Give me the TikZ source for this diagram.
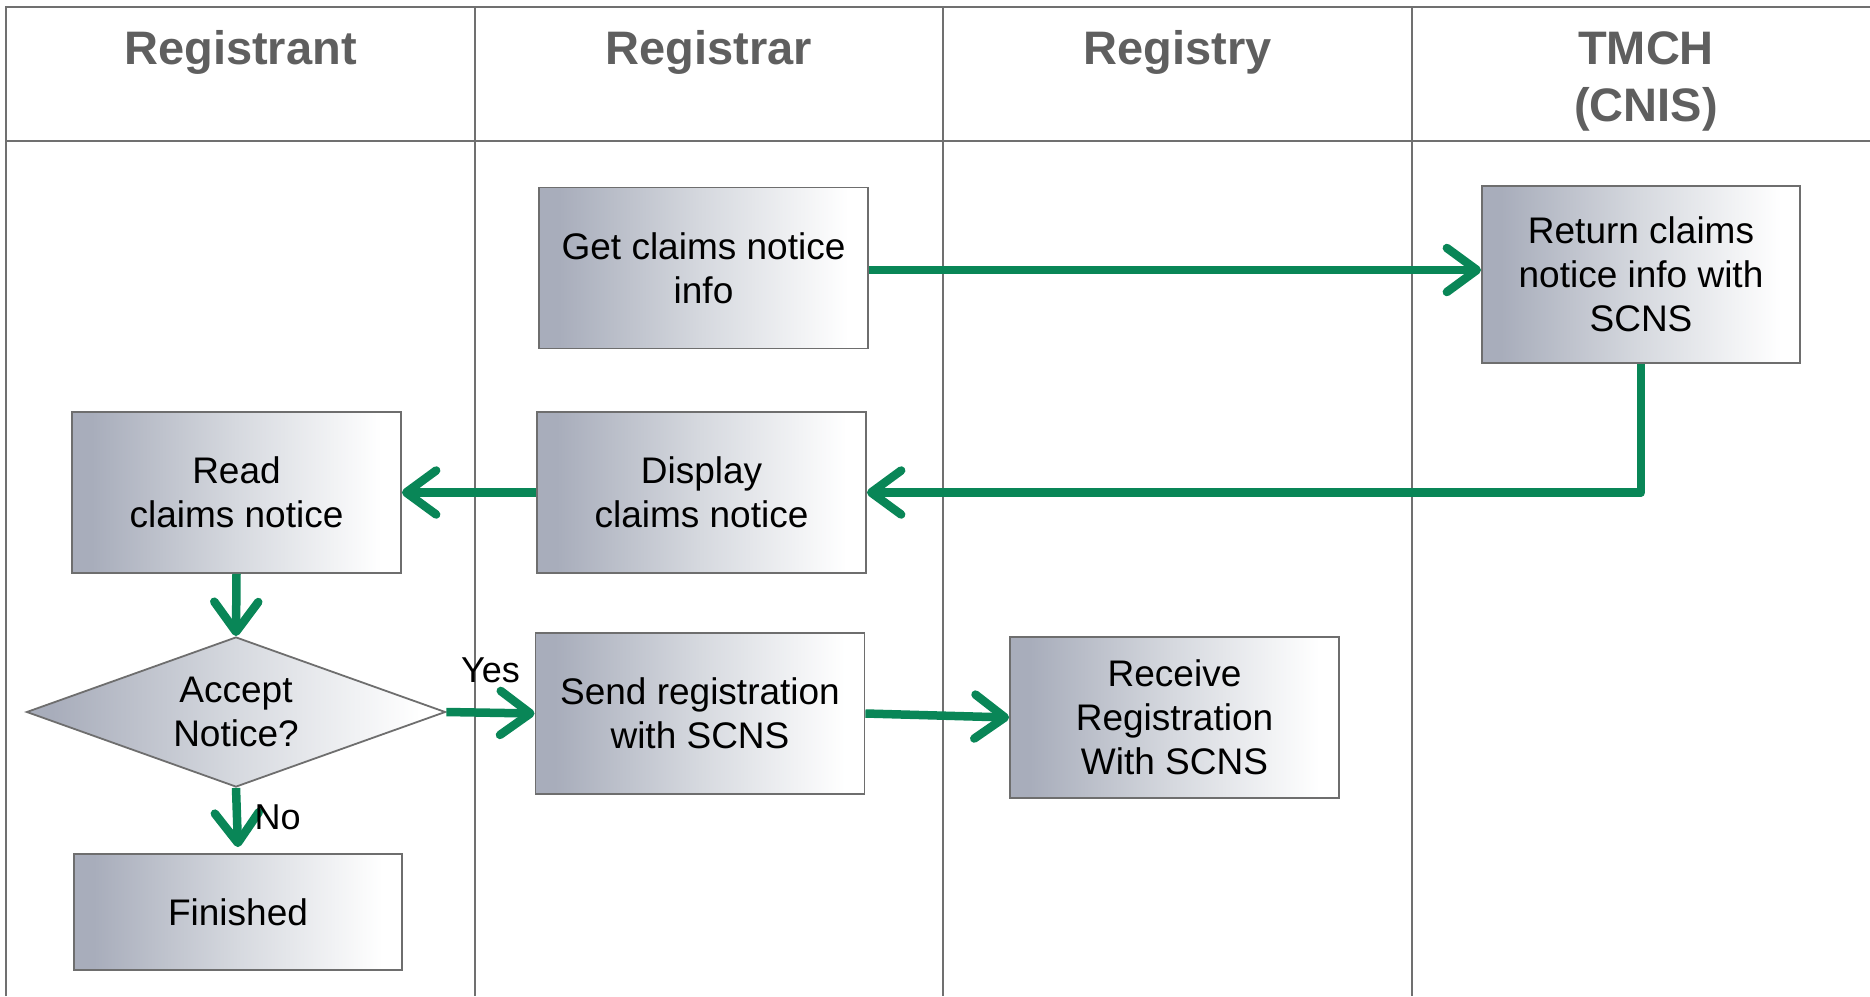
\documentclass[tikz,border=0pt]{standalone}
\usepackage{fontspec}
\setmainfont{Liberation Sans}
\usetikzlibrary{arrows.meta,shapes.geometric}
\definecolor{flowgreen}{RGB}{9,134,87}
\definecolor{lanegray}{RGB}{112,112,112}
\definecolor{headgray}{RGB}{95,95,95}
\definecolor{boxedge}{RGB}{110,110,110}
\definecolor{boxdark}{RGB}{168,173,187}
\definecolor{boxmid}{RGB}{214,217,223}
% left-to-right fade used by every process box
\pgfdeclarehorizontalshading{boxfade}{100bp}{color(0bp)=(boxdark); color(28bp)=(boxdark); color(50bp)=(boxmid); color(72bp)=(white); color(100bp)=(white)}
\tikzset{
  lane/.style={draw=lanegray, line width=2pt},
  lanehead/.style={anchor=base, text=headgray, align=center, inner sep=0pt,
    font=\fontsize{47}{57}\selectfont\bfseries},
  stepbox/.style={draw=boxedge, line width=1.8pt, shading=boxfade,
    minimum width=329pt, minimum height=161pt, inner sep=0pt, align=center,
    text=black, font=\fontsize{37}{44}\selectfont},
  decision/.style={stepbox, shape=diamond, aspect=2.79, minimum width=419pt,
    minimum height=150pt},
  flow/.style={draw=flowgreen, line width=8.5pt, line join=round,
    -{Straight Barb[length=30pt,width=44pt,round]}},
  flowlabel/.style={text=black, font=\fontsize{36}{42}\selectfont}
}
\begin{document}
\begin{tikzpicture}[x=1pt,y=-1pt]
\useasboundingbox (0,0) rectangle (1870,996);

% swimlane frame
\draw[lane] (6,996) -- (6,7) -- (1870,7);
\draw[lane] (6,141) -- (1870,141);
\foreach \lx in {475,943,1412} \draw[lane] (\lx,7) -- (\lx,996);

% lane headings (a base anchor sits on the last line)
\node[lanehead] (hrant) at (240.5,64) {Registrant};
\node[lanehead] (hrar)  at (709,64)   {Registrar};
\node[lanehead] (hreg)  at (1177.5,64) {Registry};
\node[lanehead] (htmch) at (1646,121) {TMCH\\(CNIS)};

% process steps
\node[stepbox] (get)  at (703.5,268) {Get claims notice\\info};
\node[stepbox, minimum width=318pt, minimum height=177pt] (ret) at (1641,274.5)
  {Return claims\\notice info with\\SCNS};
\node[stepbox] (read) at (236.5,492.5) {Read\\claims notice};
\node[stepbox] (disp) at (701.5,492.5) {Display\\claims notice};
\node[decision] (dia) at (236,712) {Accept\\Notice?};
\node[stepbox] (send) at (700,713.5) {Send registration\\with SCNS};
\node[stepbox] (recv) at (1174.5,717.5) {Receive\\Registration\\With SCNS};
\node[stepbox, minimum width=328pt, minimum height=116pt] (fin) at (238,912) {Finished};

% connectors
\draw[flow] ([yshift=-2pt]get.east) -- ([yshift=-2pt]get.east -| ret.west);
\draw[flow] (ret.south) |- (disp.east);
\draw[flow] (disp.west) -- (read.east);
\draw[flow] (read.south) -- (dia.north);
\draw[flow] (dia.east) -- node[flowlabel, above=22pt] (yes) {Yes} (send.west);
\draw[flow] (send.east) -- (recv.west);
\draw[flow] (dia.south) -- node[flowlabel, right=10pt] (no) {No} ([yshift=6pt]fin.north);
\end{tikzpicture}
\end{document}
